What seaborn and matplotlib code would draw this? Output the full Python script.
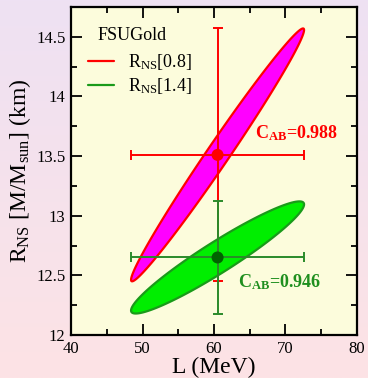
import numpy as np
import pandas as pd
import matplotlib
matplotlib.use("Agg")
import matplotlib.pyplot as plt
from matplotlib.ticker import MultipleLocator
from matplotlib.lines import Line2D
import seaborn as sns

# ---- data ----
labels = ["R$_{\\mathrm{NS}}$[0.8]", "R$_{\\mathrm{NS}}$[1.4]"]
L_center = [60.5, 60.5]
R_center = [13.51, 12.65]
L_err = [12.1, 12.1]
R_err = [1.06, 0.47]
corr = [0.988, 0.946]
corr_text = ["C$_{\\mathbf{AB}}$=0.988", "C$_{\\mathbf{AB}}$=0.946"]
text_pos_L = [65.7, 63.4]
text_pos_R = [13.69, 12.44]
model_name = "FSUGold"
edge_colors = ["#ff0000", "#1a9a1a"]
fill_colors = ["#ff00ff", "#00ee00"]
bar_colors = ["#ff0000", "#2a8a2a"]
point_colors = ["#ff0000", "#006400"]
text_colors = ["#ff0000", "#1f8f1f"]

sns.set_theme(style="ticks")
plt.rcParams["font.family"] = ["Liberation Serif", "DejaVu Serif"]
plt.rcParams["text.color"] = "black"
plt.rcParams["axes.labelcolor"] = "black"
plt.rcParams["mathtext.fontset"] = "custom"
plt.rcParams["mathtext.rm"] = "Liberation Serif"
plt.rcParams["mathtext.bf"] = "Liberation Serif:bold"
plt.rcParams["mathtext.it"] = "Liberation Serif:italic"

fig = plt.figure(figsize=(3.68, 3.78), dpi=100)

# gradient background
bg = fig.add_axes([0, 0, 1, 1], zorder=-10)
top = np.array(matplotlib.colors.to_rgb("#eee1f3"))
bot = np.array(matplotlib.colors.to_rgb("#fde3e5"))
t = np.linspace(0, 1, 256)[:, None]
grad = (top[None, :] * (1 - t) + bot[None, :] * t)[:, None, :]
bg.imshow(grad, aspect="auto", extent=[0, 1, 0, 1])
bg.axis("off")

ax = fig.add_axes([0.193, 0.1138, 0.777, 0.8677])
ax.set_facecolor("#fcfcdc")

df = pd.DataFrame({"L": L_center, "R": R_center, "label": labels})

for i in range(2):
    tt = np.linspace(0, 2 * np.pi, 400)
    ex = L_center[i] + L_err[i] * np.cos(tt)
    ey = R_center[i] + R_err[i] * (corr[i] * np.cos(tt) + np.sqrt(1 - corr[i] ** 2) * np.sin(tt))
    ax.fill(ex, ey, facecolor=fill_colors[i], edgecolor=edge_colors[i], linewidth=1.6, zorder=2)

for i in range(2):
    ax.errorbar(L_center[i], R_center[i], xerr=L_err[i], yerr=R_err[i],
                fmt="none", ecolor=bar_colors[i], elinewidth=1.4, capsize=3.8,
                capthick=1.4, zorder=3)

sns.scatterplot(data=df, x="L", y="R", hue="label", palette=point_colors,
                s=75, edgecolor="none", legend=False, ax=ax, zorder=4)

for i in range(2):
    ax.text(text_pos_L[i], text_pos_R[i], corr_text[i], color=text_colors[i],
            fontsize=13, fontweight="bold", va="center", ha="left", zorder=5)

# legend
ax.text(0.091, 0.912, model_name, transform=ax.transAxes, fontsize=13,
        va="center", ha="left", color="black")
handles = [Line2D([], [], color=edge_colors[i], lw=1.6) for i in range(2)]
leg = ax.legend(handles, labels, loc="upper left",
                bbox_to_anchor=(0.035, 0.885), frameon=False, fontsize=13,
                handlelength=1.45, handletextpad=0.75, labelspacing=0.25,
                borderaxespad=0)
for txt in leg.get_texts():
    txt.set_color("black")

ax.set_xlim(40, 80)
ax.set_ylim(12, 14.75)
ax.set_xticks([40, 50, 60, 70, 80])
ax.set_xticklabels(["40", "50", "60", "70", "80"])
ax.set_yticks([12, 12.5, 13, 13.5, 14, 14.5])
ax.set_yticklabels(["12", "12.5", "13", "13.5", "14", "14.5"])
ax.xaxis.set_minor_locator(MultipleLocator(5))
ax.yaxis.set_minor_locator(MultipleLocator(0.25))
ax.tick_params(which="both", direction="in", top=True, right=True, colors="black",
               labelsize=12, width=1.3)
ax.tick_params(which="major", length=8, pad=4)
ax.tick_params(which="minor", length=4.5)
for s in ax.spines.values():
    s.set_linewidth(1.6)
    s.set_color("black")

ax.set_xlabel("L (MeV)", fontsize=17, labelpad=0)
ax.set_ylabel("R$_{\\mathrm{NS}}$ [M/M$_{\\mathrm{sun}}$] (km)", fontsize=17, labelpad=2)

fig.savefig("out.png", dpi=100)
